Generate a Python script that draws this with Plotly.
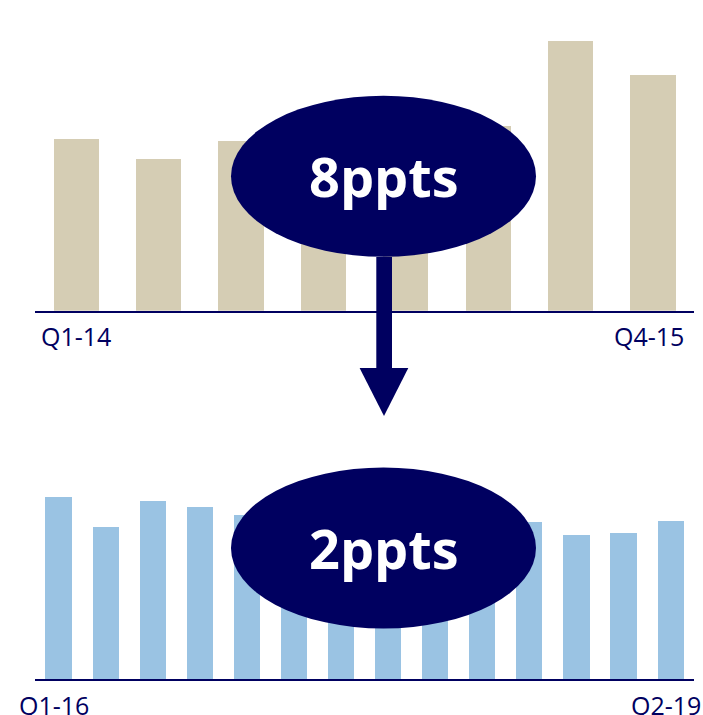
import plotly.graph_objects as go

# ---- data ----
top_categories = ["Q1-14", "Q2-14", "Q3-14", "Q4-14", "Q1-15", "Q2-15", "Q3-15", "Q4-15"]
top_values = [17.2, 15.2, 17.0, 14.0, 13.5, 18.5, 27.0, 23.6]

bottom_categories = ["Q1-16", "Q2-16", "Q3-16", "Q4-16", "Q1-17", "Q2-17", "Q3-17", "Q4-17",
                     "Q1-18", "Q2-18", "Q3-18", "Q4-18", "Q1-19", "Q2-19"]
bottom_values = [18.2, 15.2, 17.8, 17.2, 16.4, 15.5, 15.0, 14.8, 15.2, 15.6, 15.7, 14.4, 14.6, 15.8]

top_badge = "8ppts"
bottom_badge = "2ppts"

# ---- style ----
W, H = 703, 715
NAVY = "#000060"
BEIGE = "#d5cdb4"
BLUE = "#9ac3e3"
FONT = "Open Sans"

def px(x):
    return x / W

def py(y):
    return 1 - y / H

fig = go.Figure()
fig.add_trace(go.Bar(x=top_categories, y=top_values, marker_color=BEIGE,
                     marker_line_width=0, xaxis="x", yaxis="y", width=0.55))
fig.add_trace(go.Bar(x=bottom_categories, y=bottom_values, marker_color=BLUE,
                     marker_line_width=0, xaxis="x2", yaxis="y2", width=0.556))

x_dom = [px(34.8), px(694)]
axis_common = dict(showgrid=False, zeroline=False, showticklabels=False, ticks="",
                   showline=True, linecolor=NAVY, linewidth=2, fixedrange=True)

fig.update_layout(
    width=W, height=H,
    margin=dict(l=0, r=0, t=0, b=0),
    paper_bgcolor="white", plot_bgcolor="white",
    showlegend=False,
    bargap=0,
    xaxis=dict(domain=x_dom, anchor="y", type="category",
               range=[-0.5, len(top_categories) - 0.5], **axis_common),
    yaxis=dict(domain=[py(310.7), 1], anchor="x", range=[0, 31.07],
               visible=False, fixedrange=True),
    xaxis2=dict(domain=x_dom, anchor="y2", type="category",
                range=[-0.5, len(bottom_categories) - 0.5], **axis_common),
    yaxis2=dict(domain=[py(679.3), py(360)], anchor="x2", range=[0, 31.93],
                visible=False, fixedrange=True),
)

label_font = dict(family=FONT, size=25, color=NAVY)
annotations = [
    dict(x=top_categories[0], xref="x", y=py(336), yref="paper", text=top_categories[0],
         showarrow=False, font=label_font, xanchor="center", yanchor="middle", xshift=0),
    dict(x=top_categories[-1], xref="x", y=py(336), yref="paper", text=top_categories[-1],
         showarrow=False, font=label_font, xanchor="center", yanchor="middle", xshift=-4),
    dict(x=bottom_categories[0], xref="x2", y=py(705), yref="paper", text=bottom_categories[0],
         showarrow=False, font=label_font, xanchor="center", yanchor="middle", xshift=-4),
    dict(x=bottom_categories[-1], xref="x2", y=py(705), yref="paper", text=bottom_categories[-1],
         showarrow=False, font=label_font, xanchor="center", yanchor="middle", xshift=-4),
]

badge_font = dict(family=FONT, size=54, color="white")
shapes = []
for cy, txt in [(176.3, top_badge), (548.0, bottom_badge)]:
    shapes.append(dict(type="circle", xref="paper", yref="paper",
                       x0=px(231), x1=px(536), y0=py(cy + 80.5), y1=py(cy - 80.5),
                       fillcolor=NAVY, line=dict(width=0), layer="above"))
    annotations.append(dict(x=px(383.5), y=py(cy), xref="paper", yref="paper", text="<b>%s</b>" % txt,
                            showarrow=False, font=badge_font, xanchor="center", yanchor="middle"))

# arrow between panels
shapes.append(dict(type="rect", xref="paper", yref="paper",
                   x0=px(376.3), x1=px(392), y0=py(370), y1=py(257),
                   fillcolor=NAVY, line=dict(width=0), layer="above"))
shapes.append(dict(type="path", xref="paper", yref="paper",
                   path="M %f,%f L %f,%f L %f,%f Z" % (px(359.6), py(368), px(408.3), py(368), px(384), py(416)),
                   fillcolor=NAVY, line=dict(width=0), layer="above"))

fig.update_layout(shapes=shapes, annotations=annotations)
fig.write_html("out.html")
